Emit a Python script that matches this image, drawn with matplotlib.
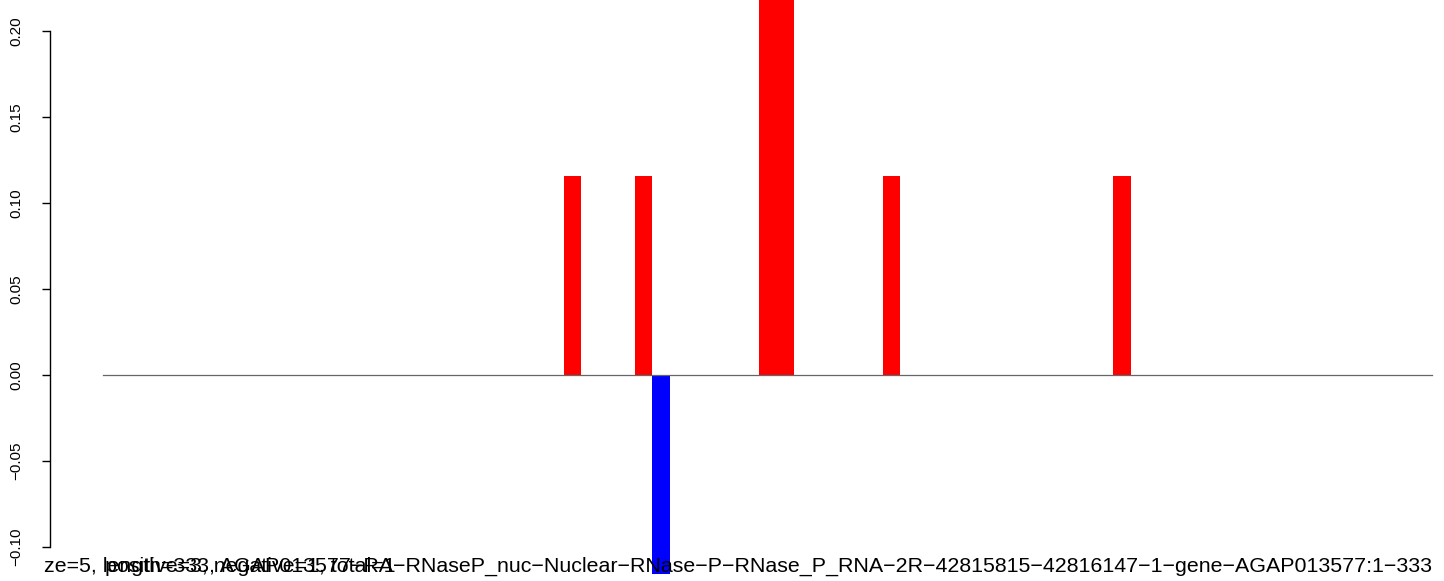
import matplotlib
matplotlib.use("Agg")
import matplotlib.pyplot as plt
import numpy as np

plt.rcParams['font.family'] = ['Liberation Sans', 'DejaVu Sans']

n_bins = 75
pos_bins = [26, 30, 37, 38, 44, 57]
pos_vals = [0.1157, 0.1157, 0.2314, 0.2314, 0.1157, 0.1157]
neg_bins = [31]
neg_vals = [-0.1157]
yticks = [-0.10, -0.05, 0.00, 0.05, 0.10, 0.15, 0.20]
ytick_labels = ["\u22120.10", "\u22120.05", "0.00", "0.05", "0.10", "0.15", "0.20"]
title_main = ("ze=5, length=333, AGAP013577\u2212RA\u2212RNaseP_nuc\u2212Nuclear\u2212RNase\u2212P\u2212"
              "RNase_P_RNA\u22122R\u221242815815\u221242816147\u22121\u2212gene\u2212AGAP013577:1\u2212333")
title_over = "positive=3, negative=1, total=1"

W, H = 1444, 581
fig = plt.figure(figsize=(W / 100, H / 100), dpi=100)
ax_left = 50 / W
ax = fig.add_axes([ax_left, 0, 1 - ax_left, 1])

unit = 17.72
x0_px = 103
ax.set_xlim(-(x0_px - 50) / unit, (W - x0_px) / unit)
y0_px = 375
per = 1720.0
ax.set_ylim(-(H - y0_px) / per, y0_px / per)

ax.bar(pos_bins, pos_vals, width=1, align='edge', color='#FF0000', linewidth=0)
ax.bar(neg_bins, neg_vals, width=1, align='edge', color='#0000FF', linewidth=0)
ax.plot([0, n_bins], [0, 0], color='#666666', linewidth=0.9, zorder=3)

for s in ['top', 'right', 'bottom']:
    ax.spines[s].set_visible(False)
ax.spines['left'].set_bounds(-0.10, 0.20)
ax.spines['left'].set_linewidth(1.0)
ax.set_xticks([])
ax.set_yticks(yticks)
ax.set_yticklabels(ytick_labels, rotation=90, va='center', fontsize=11)
ax.tick_params(axis='y', length=6, width=1.0, pad=13)
ax.patch.set_alpha(0)

fs = 15.4
fig.text(1432 / W, 1 - 566 / H, title_main, ha='right', va='center', fontsize=fs)
fig.text(105 / W, 1 - 566 / H, title_over, ha='left', va='center', fontsize=fs)

fig.savefig("out.png", dpi=100)
